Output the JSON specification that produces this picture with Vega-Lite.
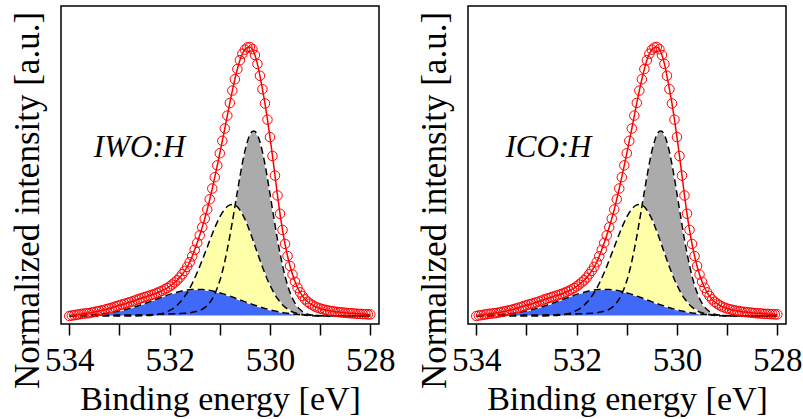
{
  "$schema": "https://vega.github.io/schema/vega-lite/v6.json",
  "padding": {"left": 9, "top": 5, "right": 3, "bottom": 0},
  "background": "white",
  "spacing": 20,
  "config": {
    "view": {"stroke": "black", "strokeWidth": 1.5},
    "axis": {"labelColor": "black", "titleColor": "black", "titleFontWeight": "normal", "grid": false}
  },
  "datasets": {
    "obs": [
      {"E":534.00,"v":0.000},{"E":533.95,"v":0.002},{"E":533.90,"v":0.003},{"E":533.85,"v":0.005},{"E":533.80,"v":0.006},
      {"E":533.75,"v":0.008},{"E":533.70,"v":0.009},{"E":533.65,"v":0.010},{"E":533.60,"v":0.011},{"E":533.55,"v":0.013},
      {"E":533.50,"v":0.015},{"E":533.45,"v":0.017},{"E":533.40,"v":0.019},{"E":533.35,"v":0.021},{"E":533.30,"v":0.023},
      {"E":533.25,"v":0.026},{"E":533.20,"v":0.028},{"E":533.15,"v":0.031},{"E":533.10,"v":0.034},{"E":533.05,"v":0.037},
      {"E":533.00,"v":0.040},{"E":532.95,"v":0.043},{"E":532.90,"v":0.045},{"E":532.85,"v":0.048},{"E":532.80,"v":0.051},
      {"E":532.75,"v":0.054},{"E":532.70,"v":0.057},{"E":532.65,"v":0.061},{"E":532.60,"v":0.064},{"E":532.55,"v":0.067},
      {"E":532.50,"v":0.070},{"E":532.45,"v":0.073},{"E":532.40,"v":0.076},{"E":532.35,"v":0.079},{"E":532.30,"v":0.082},
      {"E":532.25,"v":0.086},{"E":532.20,"v":0.090},{"E":532.15,"v":0.094},{"E":532.10,"v":0.099},{"E":532.05,"v":0.104},
      {"E":532.00,"v":0.110},{"E":531.95,"v":0.117},{"E":531.90,"v":0.125},{"E":531.85,"v":0.133},{"E":531.80,"v":0.143},
      {"E":531.75,"v":0.155},{"E":531.70,"v":0.168},{"E":531.65,"v":0.183},{"E":531.60,"v":0.200},{"E":531.55,"v":0.222},
      {"E":531.50,"v":0.246},{"E":531.45,"v":0.272},{"E":531.40,"v":0.300},{"E":531.35,"v":0.330},{"E":531.30,"v":0.362},
      {"E":531.25,"v":0.396},{"E":531.20,"v":0.434},{"E":531.15,"v":0.474},{"E":531.10,"v":0.516},{"E":531.05,"v":0.560},
      {"E":531.00,"v":0.605},{"E":530.95,"v":0.651},{"E":530.90,"v":0.697},{"E":530.85,"v":0.745},{"E":530.80,"v":0.792},
      {"E":530.75,"v":0.838},{"E":530.70,"v":0.880},{"E":530.65,"v":0.918},{"E":530.60,"v":0.951},{"E":530.55,"v":0.975},
      {"E":530.50,"v":0.990},{"E":530.45,"v":0.998},{"E":530.40,"v":1.000},{"E":530.35,"v":0.992},{"E":530.30,"v":0.970},
      {"E":530.25,"v":0.937},{"E":530.20,"v":0.893},{"E":530.15,"v":0.843},{"E":530.10,"v":0.790},{"E":530.05,"v":0.730},
      {"E":530.00,"v":0.665},{"E":529.95,"v":0.595},{"E":529.90,"v":0.522},{"E":529.85,"v":0.448},{"E":529.80,"v":0.380},
      {"E":529.75,"v":0.320},{"E":529.70,"v":0.268},{"E":529.65,"v":0.223},{"E":529.60,"v":0.186},{"E":529.55,"v":0.154},
      {"E":529.50,"v":0.127},{"E":529.45,"v":0.105},{"E":529.40,"v":0.088},{"E":529.35,"v":0.074},{"E":529.30,"v":0.062},
      {"E":529.25,"v":0.053},{"E":529.20,"v":0.046},{"E":529.15,"v":0.040},{"E":529.10,"v":0.035},{"E":529.05,"v":0.031},
      {"E":529.00,"v":0.028},{"E":528.95,"v":0.025},{"E":528.90,"v":0.023},{"E":528.85,"v":0.021},{"E":528.80,"v":0.019},
      {"E":528.75,"v":0.018},{"E":528.70,"v":0.016},{"E":528.65,"v":0.015},{"E":528.60,"v":0.014},{"E":528.55,"v":0.013},
      {"E":528.50,"v":0.012},{"E":528.45,"v":0.011},{"E":528.40,"v":0.010},{"E":528.35,"v":0.010},{"E":528.30,"v":0.009},
      {"E":528.25,"v":0.008},{"E":528.20,"v":0.008},{"E":528.15,"v":0.007},{"E":528.10,"v":0.007},{"E":528.05,"v":0.006},
      {"E":528.00,"v":0.006}
    ],
    "gray": [
      {"E":534.00,"v":0.0018},{"E":533.50,"v":0.0024},{"E":533.00,"v":0.0033},{"E":532.50,"v":0.0048},{"E":532.20,"v":0.0062},
      {"E":532.00,"v":0.0074},{"E":531.80,"v":0.009},{"E":531.70,"v":0.010},{"E":531.60,"v":0.012},{"E":531.55,"v":0.014},
      {"E":531.50,"v":0.016},{"E":531.45,"v":0.018},{"E":531.40,"v":0.021},{"E":531.35,"v":0.025},{"E":531.30,"v":0.031},
      {"E":531.25,"v":0.039},{"E":531.20,"v":0.050},{"E":531.15,"v":0.064},{"E":531.10,"v":0.082},{"E":531.05,"v":0.104},
      {"E":531.00,"v":0.131},{"E":530.95,"v":0.164},{"E":530.90,"v":0.203},{"E":530.85,"v":0.248},{"E":530.80,"v":0.297},
      {"E":530.75,"v":0.350},{"E":530.70,"v":0.406},{"E":530.65,"v":0.462},{"E":530.60,"v":0.517},{"E":530.55,"v":0.568},
      {"E":530.50,"v":0.613},{"E":530.45,"v":0.648},{"E":530.40,"v":0.674},{"E":530.35,"v":0.686},{"E":530.325,"v":0.688},
      {"E":530.30,"v":0.686},{"E":530.25,"v":0.673},{"E":530.20,"v":0.647},{"E":530.15,"v":0.610},{"E":530.10,"v":0.564},
      {"E":530.05,"v":0.511},{"E":530.00,"v":0.454},{"E":529.95,"v":0.396},{"E":529.90,"v":0.339},{"E":529.85,"v":0.283},
      {"E":529.80,"v":0.233},{"E":529.75,"v":0.188},{"E":529.70,"v":0.148},{"E":529.65,"v":0.115},{"E":529.60,"v":0.087},
      {"E":529.55,"v":0.065},{"E":529.50,"v":0.047},{"E":529.45,"v":0.034},{"E":529.40,"v":0.024},{"E":529.35,"v":0.016},
      {"E":529.30,"v":0.011},{"E":529.25,"v":0.007},{"E":529.20,"v":0.005},{"E":529.10,"v":0.002},{"E":529.00,"v":0.001},
      {"E":528.00,"v":0.0}
    ],
    "yellow": [
      {"E":534.00,"v":0.0},{"E":532.75,"v":0.0},{"E":532.55,"v":0.0008},{"E":532.45,"v":0.0016},{"E":532.35,"v":0.003},
      {"E":532.25,"v":0.0055},{"E":532.15,"v":0.0095},{"E":532.10,"v":0.012},{"E":532.05,"v":0.016},{"E":532.00,"v":0.021},
      {"E":531.95,"v":0.026},{"E":531.90,"v":0.033},{"E":531.85,"v":0.040},{"E":531.80,"v":0.050},{"E":531.75,"v":0.060},
      {"E":531.70,"v":0.073},{"E":531.65,"v":0.087},{"E":531.60,"v":0.103},{"E":531.55,"v":0.121},{"E":531.50,"v":0.141},
      {"E":531.45,"v":0.162},{"E":531.40,"v":0.184},{"E":531.35,"v":0.208},{"E":531.30,"v":0.232},{"E":531.25,"v":0.256},
      {"E":531.20,"v":0.281},{"E":531.15,"v":0.305},{"E":531.10,"v":0.328},{"E":531.05,"v":0.349},{"E":531.00,"v":0.368},
      {"E":530.95,"v":0.384},{"E":530.90,"v":0.398},{"E":530.85,"v":0.407},{"E":530.80,"v":0.413},{"E":530.75,"v":0.415},
      {"E":530.70,"v":0.413},{"E":530.65,"v":0.406},{"E":530.60,"v":0.394},{"E":530.55,"v":0.379},{"E":530.50,"v":0.360},
      {"E":530.45,"v":0.338},{"E":530.40,"v":0.313},{"E":530.35,"v":0.288},{"E":530.30,"v":0.261},{"E":530.25,"v":0.234},
      {"E":530.20,"v":0.208},{"E":530.15,"v":0.182},{"E":530.10,"v":0.158},{"E":530.05,"v":0.135},{"E":530.00,"v":0.115},
      {"E":529.95,"v":0.096},{"E":529.90,"v":0.079},{"E":529.85,"v":0.065},{"E":529.80,"v":0.053},{"E":529.75,"v":0.042},
      {"E":529.70,"v":0.033},{"E":529.65,"v":0.026},{"E":529.60,"v":0.020},{"E":529.55,"v":0.015},{"E":529.50,"v":0.012},
      {"E":529.45,"v":0.009},{"E":529.35,"v":0.005},{"E":529.25,"v":0.002},{"E":529.15,"v":0.001},{"E":528.95,"v":0.0},
      {"E":528.00,"v":0.0}
    ],
    "blue": [
      {"E":534.00,"v":0.001},{"E":533.85,"v":0.0018},{"E":533.65,"v":0.0035},{"E":533.45,"v":0.0062},{"E":533.35,"v":0.0081},
      {"E":533.25,"v":0.0105},{"E":533.15,"v":0.0134},{"E":533.05,"v":0.0168},{"E":532.95,"v":0.0208},{"E":532.85,"v":0.0255},
      {"E":532.75,"v":0.0307},{"E":532.65,"v":0.0365},{"E":532.55,"v":0.0428},{"E":532.45,"v":0.0495},{"E":532.35,"v":0.0565},
      {"E":532.25,"v":0.0635},{"E":532.15,"v":0.0705},{"E":532.05,"v":0.0771},{"E":531.95,"v":0.0833},{"E":531.85,"v":0.0886},
      {"E":531.75,"v":0.0930},{"E":531.65,"v":0.0963},{"E":531.55,"v":0.0983},{"E":531.45,"v":0.099},{"E":531.35,"v":0.0983},
      {"E":531.25,"v":0.0963},{"E":531.15,"v":0.0930},{"E":531.05,"v":0.0886},{"E":530.95,"v":0.0833},{"E":530.85,"v":0.0771},
      {"E":530.75,"v":0.0705},{"E":530.65,"v":0.0635},{"E":530.55,"v":0.0565},{"E":530.45,"v":0.0495},{"E":530.35,"v":0.0428},
      {"E":530.25,"v":0.0365},{"E":530.15,"v":0.0307},{"E":530.05,"v":0.0255},{"E":529.95,"v":0.0208},{"E":529.85,"v":0.0168},
      {"E":529.75,"v":0.0134},{"E":529.65,"v":0.0105},{"E":529.55,"v":0.0081},{"E":529.45,"v":0.0062},{"E":529.25,"v":0.0035},
      {"E":529.05,"v":0.0018},{"E":528.85,"v":0.0009},{"E":528.65,"v":0.0004},{"E":528.00,"v":0.0}
    ],
    "lab1": [{"E":533.51,"v":0.591,"t":"IWO:H"}],
    "lab2": [{"E":533.42,"v":0.592,"t":"ICO:H"}]
  },
  "hconcat": [
    {
      "width": 318, "height": 318,
      "encoding": {
        "x": {"field": "E", "type": "quantitative",
          "scale": {"domain": [527.827, 534.165], "reverse": true, "nice": false, "zero": false},
          "axis": {"values": [534,533,532,531,530,529,528], "format": "d",
            "labelExpr": "datum.value % 2 == 0 ? datum.label : ''",
            "tickSize": 11, "tickColor": "black", "tickWidth": 1.5, "domain": false,
            "labelFont": "'Liberation Serif'", "titleFont": "Liberation Serif, DejaVu Serif",
            "labelFontSize": 33, "labelPadding": 9, "labelFlush": false,
            "title": "Binding energy [eV]", "titleFontSize": 34, "titlePadding": 5}},
        "y": {"field": "v", "type": "quantitative",
          "scale": {"domain": [-0.0297, 1.1524], "nice": false, "zero": false},
          "axis": {"title": "Normalized intensity [a.u.]", "ticks": false, "labels": false, "domain": false,
            "titleFont": "Liberation Serif, DejaVu Serif",
            "titleFontSize": 35, "titlePadding": 16, "titleY": 194}}
      },
      "layer": [
        {"data": {"name": "gray"}, "mark": {"type": "area", "interpolate": "monotone", "color": "#ababab", "stroke": "white", "strokeWidth": 1.2}},
        {"data": {"name": "yellow"}, "mark": {"type": "area", "interpolate": "monotone", "color": "#ffffaa", "stroke": "white", "strokeWidth": 1.2}},
        {"data": {"name": "blue"}, "mark": {"type": "area", "interpolate": "monotone", "color": "#4169f8", "stroke": "white", "strokeWidth": 1.2}},
        {"data": {"name": "gray"}, "mark": {"type": "line", "interpolate": "monotone", "color": "black", "strokeWidth": 1.5, "strokeDash": [7, 4]}},
        {"data": {"name": "yellow"}, "mark": {"type": "line", "interpolate": "monotone", "color": "black", "strokeWidth": 1.5, "strokeDash": [7, 4]}},
        {"data": {"name": "blue"}, "mark": {"type": "line", "interpolate": "monotone", "color": "black", "strokeWidth": 1.5, "strokeDash": [7, 4]}},
        {"data": {"name": "obs"}, "mark": {"type": "line", "interpolate": "monotone", "color": "#ff0000", "strokeWidth": 1.5}},
        {"data": {"name": "obs"}, "mark": {"type": "point", "shape": "circle", "filled": false, "color": "#ff0000", "size": 90, "strokeWidth": 1, "opacity": 1}},
        {"data": {"name": "lab1"}, "mark": {"type": "text", "align": "left", "baseline": "alphabetic", "fontSize": 31, "fontStyle": "italic", "font": "Liberation Serif", "color": "black"},
         "encoding": {"text": {"field": "t"}}}
      ]
    },
    {
      "width": 318, "height": 318,
      "encoding": {
        "x": {"field": "E", "type": "quantitative",
          "scale": {"domain": [527.827, 534.165], "reverse": true, "nice": false, "zero": false},
          "axis": {"values": [534,533,532,531,530,529,528], "format": "d",
            "labelExpr": "datum.value % 2 == 0 ? datum.label : ''",
            "tickSize": 11, "tickColor": "black", "tickWidth": 1.5, "domain": false,
            "labelFont": "'Liberation Serif'", "titleFont": "Liberation Serif, DejaVu Serif",
            "labelFontSize": 33, "labelPadding": 9, "labelFlush": false,
            "title": "Binding energy [eV]", "titleFontSize": 34, "titlePadding": 5}},
        "y": {"field": "v", "type": "quantitative",
          "scale": {"domain": [-0.0297, 1.1524], "nice": false, "zero": false},
          "axis": {"title": "Normalized intensity [a.u.]", "ticks": false, "labels": false, "domain": false,
            "titleFont": "Liberation Serif, DejaVu Serif",
            "titleFontSize": 35, "titlePadding": 16, "titleY": 194}}
      },
      "layer": [
        {"data": {"name": "gray"}, "mark": {"type": "area", "interpolate": "monotone", "color": "#ababab", "stroke": "white", "strokeWidth": 1.2}},
        {"data": {"name": "yellow"}, "mark": {"type": "area", "interpolate": "monotone", "color": "#ffffaa", "stroke": "white", "strokeWidth": 1.2}},
        {"data": {"name": "blue"}, "mark": {"type": "area", "interpolate": "monotone", "color": "#4169f8", "stroke": "white", "strokeWidth": 1.2}},
        {"data": {"name": "gray"}, "mark": {"type": "line", "interpolate": "monotone", "color": "black", "strokeWidth": 1.5, "strokeDash": [7, 4]}},
        {"data": {"name": "yellow"}, "mark": {"type": "line", "interpolate": "monotone", "color": "black", "strokeWidth": 1.5, "strokeDash": [7, 4]}},
        {"data": {"name": "blue"}, "mark": {"type": "line", "interpolate": "monotone", "color": "black", "strokeWidth": 1.5, "strokeDash": [7, 4]}},
        {"data": {"name": "obs"}, "mark": {"type": "line", "interpolate": "monotone", "color": "#ff0000", "strokeWidth": 1.5}},
        {"data": {"name": "obs"}, "mark": {"type": "point", "shape": "circle", "filled": false, "color": "#ff0000", "size": 90, "strokeWidth": 1, "opacity": 1}},
        {"data": {"name": "lab2"}, "mark": {"type": "text", "align": "left", "baseline": "alphabetic", "fontSize": 31, "fontStyle": "italic", "font": "Liberation Serif", "color": "black"},
         "encoding": {"text": {"field": "t"}}}
      ]
    }
  ]
}
